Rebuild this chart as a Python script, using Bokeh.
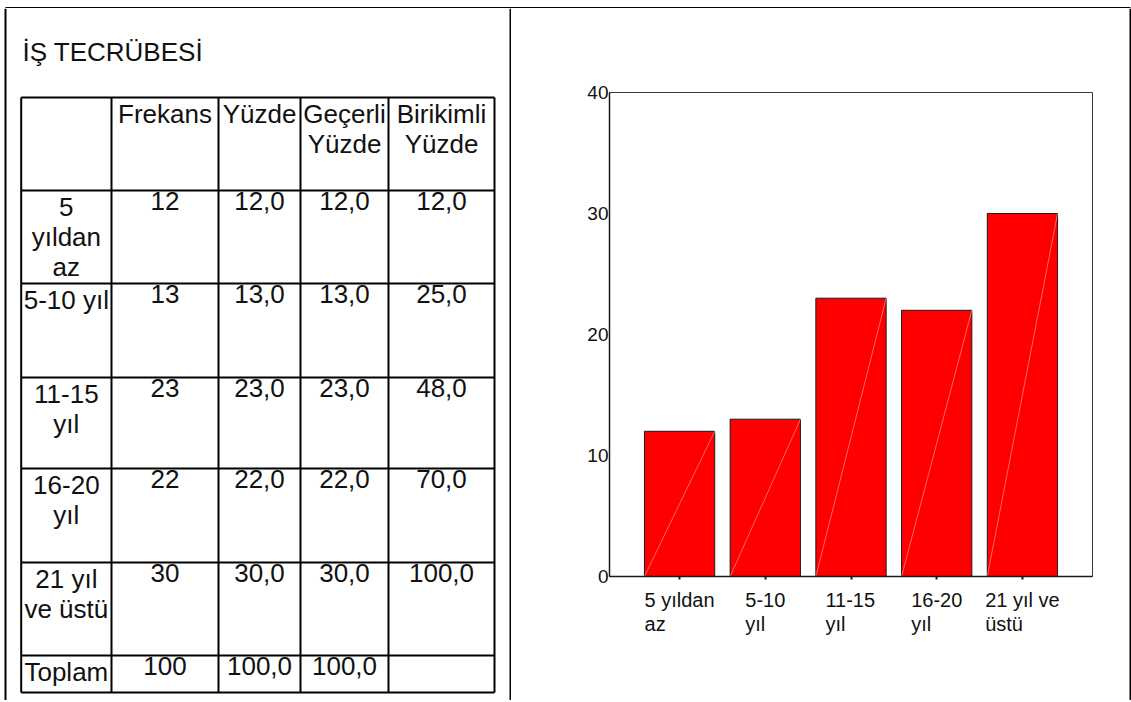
from bokeh.plotting import figure
from bokeh.layouts import row, column
from bokeh.models import Range1d, FactorRange, FixedTicker, ColumnDataSource
from bokeh.transform import dodge
from bokeh.embed import file_html
from bokeh.resources import INLINE
from bokeh.core.properties import value

# ---------------- data ----------------
title_text = "İŞ TECRÜBESİ"
header_labels = ["", "Frekans", "Yüzde", "Geçerli\nYüzde", "Birikimli\nYüzde"]
row_labels = ["5\nyıldan\naz", "5-10 yıl", "11-15\nyıl", "16-20\nyıl", "21 yıl\nve üstü"]
total_label = "Toplam"
frekans = [12, 13, 23, 22, 30]
yuzde = [12.0, 13.0, 23.0, 22.0, 30.0]
gecerli_yuzde = [12.0, 13.0, 23.0, 22.0, 30.0]
birikimli_yuzde = [12.0, 25.0, 48.0, 70.0, 100.0]
toplam_frekans = 100
toplam_yuzde = 100.0
toplam_gecerli = 100.0

categories = ["5 yıldan az", "5-10 yıl", "11-15 yıl", "16-20 yıl", "21 yıl ve üstü"]
category_labels = ["5 yıldan\naz", "5-10\nyıl", "11-15\nyıl", "16-20\nyıl", "21 yıl ve\nüstü"]
bar_values = [12, 13, 23, 22, 30]
y_ticks = [0, 10, 20, 30, 40]

FONT = "Liberation Sans"
LABEL_SIZE = 20

# approximate Liberation Sans advance widths (em) for centring label first lines
CHAR_W = {"5": .556, "0": .556, "1": .556, "2": .556, "6": .556, " ": .278, "-": .333,
          "y": .5, "ı": .278, "l": .222, "d": .556, "a": .556, "n": .556, "v": .5,
          "e": .556, "ü": .556, "s": .5, "t": .278, "z": .5}


def fmt(v):
    return f"{v:.1f}".replace(".", ",")


def text_width(s, size):
    return sum(CHAR_W.get(ch, .556) for ch in s) * size


# ---------------- layout constants (page pixels) ----------------
COL_EDGES = [20.7, 111, 218, 300, 388, 494]
ROW_EDGES = [97, 190, 283, 377, 468, 562, 655, 692]
FRAME_X = [5, 510, 1130]
FRAME_TOP = 3.5


def blank(width, height, xr, yr):
    f = figure(width=width, height=height, output_backend="svg", toolbar_location=None,
               x_axis_type=None, y_axis_type=None, min_border=0, title=None,
               x_range=Range1d(*xr), y_range=Range1d(*yr))
    f.outline_line_color = None
    f.xgrid.visible = False
    f.ygrid.visible = False
    f.frame_align = False
    return f


# ---------------- top frame strip (page y 0..8) ----------------
top_strip = blank(1131, 8, (0, 1131), (8, 0))
top_strip.segment(x0=[FRAME_X[0]], y0=[FRAME_TOP], x1=[FRAME_X[-1]], y1=[FRAME_TOP],
                  line_color="black", line_width=2)
top_strip.segment(x0=FRAME_X, y0=[FRAME_TOP] * 3, x1=FRAME_X, y1=[8] * 3,
                  line_color="black", line_width=2)

# ---------------- left: table (page x 0..511, y 8..700) ----------------
left = blank(511, 692, (0, 511), (700, 8))
left.segment(x0=FRAME_X[:2], y0=[8, 8], x1=FRAME_X[:2], y1=[700, 700],
             line_color="black", line_width=2)

left.text(x=[22], y=[36], text=[title_text], text_font=value(FONT),
          text_font_size="26px", text_baseline="top", text_align="left",
          text_color="#111111")

vx = COL_EDGES
left.segment(x0=vx, y0=[ROW_EDGES[0]] * len(vx), x1=vx, y1=[ROW_EDGES[-1]] * len(vx),
             line_color="black", line_width=2)
hy = ROW_EDGES
left.segment(x0=[COL_EDGES[0]] * len(hy), y0=hy, x1=[COL_EDGES[-1]] * len(hy), y1=hy,
             line_color="black", line_width=2)

table_rows = [header_labels]
for i in range(len(row_labels)):
    table_rows.append([row_labels[i], str(frekans[i]), fmt(yuzde[i]),
                       fmt(gecerli_yuzde[i]), fmt(birikimli_yuzde[i])])
table_rows.append([total_label, str(toplam_frekans), fmt(toplam_yuzde), fmt(toplam_gecerli), ""])

cx, cy, ct = [], [], []
for r, cells in enumerate(table_rows):
    for c, t in enumerate(cells):
        if t == "":
            continue
        cx.append((COL_EDGES[c] + COL_EDGES[c + 1]) / 2)
        cy.append(ROW_EDGES[r] + 1.5)
        ct.append(t)
left.text(x=cx, y=cy, text=ct, text_font=value(FONT), text_font_size="26px",
          text_align="center", text_baseline="top", text_line_height=1.0,
          text_color="#111111")

# ---------------- right: bar chart (page x 511..1128, y 8..588) ----------------
src = ColumnDataSource(dict(cat=categories, val=bar_values))
chart = figure(width=617, height=580, output_backend="svg", toolbar_location=None,
               title=None,
               x_range=FactorRange(factors=categories, range_padding=0.127),
               y_range=Range1d(0, 40),
               min_border_left=98, min_border_right=36, min_border_top=84,
               min_border_bottom=12)
chart.frame_align = False
chart.xgrid.visible = False
chart.ygrid.visible = False
chart.outline_line_color = "#3a3a3a"
chart.outline_line_width = 1

chart.vbar(x="cat", top="val", bottom=0, width=0.82, source=src,
           fill_color="#ff0000", line_color="#1a1a1a", line_width=1)
chart.segment(x0=dodge("cat", -0.41, range=chart.x_range), y0=0,
              x1=dodge("cat", 0.41, range=chart.x_range), y1="val", source=src,
              line_color="white", line_alpha=0.5, line_width=0.8)

chart.yaxis.ticker = FixedTicker(ticks=y_ticks)
chart.yaxis.major_tick_out = 0
chart.yaxis.major_tick_in = 0
chart.yaxis.minor_tick_line_color = None
chart.yaxis.major_label_standoff = 1
chart.yaxis.axis_line_width = 1.5
chart.yaxis.axis_line_color = "#1a1a1a"
chart.yaxis.major_label_text_font = FONT
chart.yaxis.major_label_text_font_size = "19px"
chart.yaxis.major_label_text_color = "#111111"

chart.xaxis.major_tick_out = 3
chart.xaxis.major_tick_in = 0
chart.xaxis.major_tick_line_width = 2
chart.xaxis.major_tick_line_color = "#1a1a1a"
chart.xaxis.axis_line_width = 1.5
chart.xaxis.axis_line_color = "#1a1a1a"
chart.xaxis.major_label_standoff = 0
chart.xaxis.major_label_text_font_size = "0px"
chart.xaxis.major_label_text_alpha = 0

# category labels below the axis (page y 588..700)
labels = figure(width=617, height=112, output_backend="svg", toolbar_location=None,
                title=None, x_range=chart.x_range, y_range=Range1d(112, 0),
                x_axis_type=None, y_axis_type=None,
                min_border_left=98, min_border_right=36, min_border_top=0,
                min_border_bottom=0)
labels.frame_align = False
labels.outline_line_color = None
labels.xgrid.visible = False
labels.ygrid.visible = False
lab_src = ColumnDataSource(dict(
    cat=categories, text=category_labels,
    off=[-text_width(t.split("\n")[0], LABEL_SIZE) / 2 for t in category_labels]))
labels.text(x="cat", y=0, text="text", x_offset="off", source=lab_src,
            text_font=value(FONT), text_font_size=f"{LABEL_SIZE}px", text_align="left",
            text_baseline="top", text_line_height=1.1, text_color="#111111")

# right frame line (page x 1128..1131)
right_strip = blank(3, 692, (1128, 1131), (700, 8))
right_strip.segment(x0=[FRAME_X[-1]], y0=[8], x1=[FRAME_X[-1]], y1=[700],
                    line_color="black", line_width=2)

layout = column(top_strip, row(left, column(chart, labels), right_strip))
open("out.html", "w").write(file_html(layout, INLINE))
